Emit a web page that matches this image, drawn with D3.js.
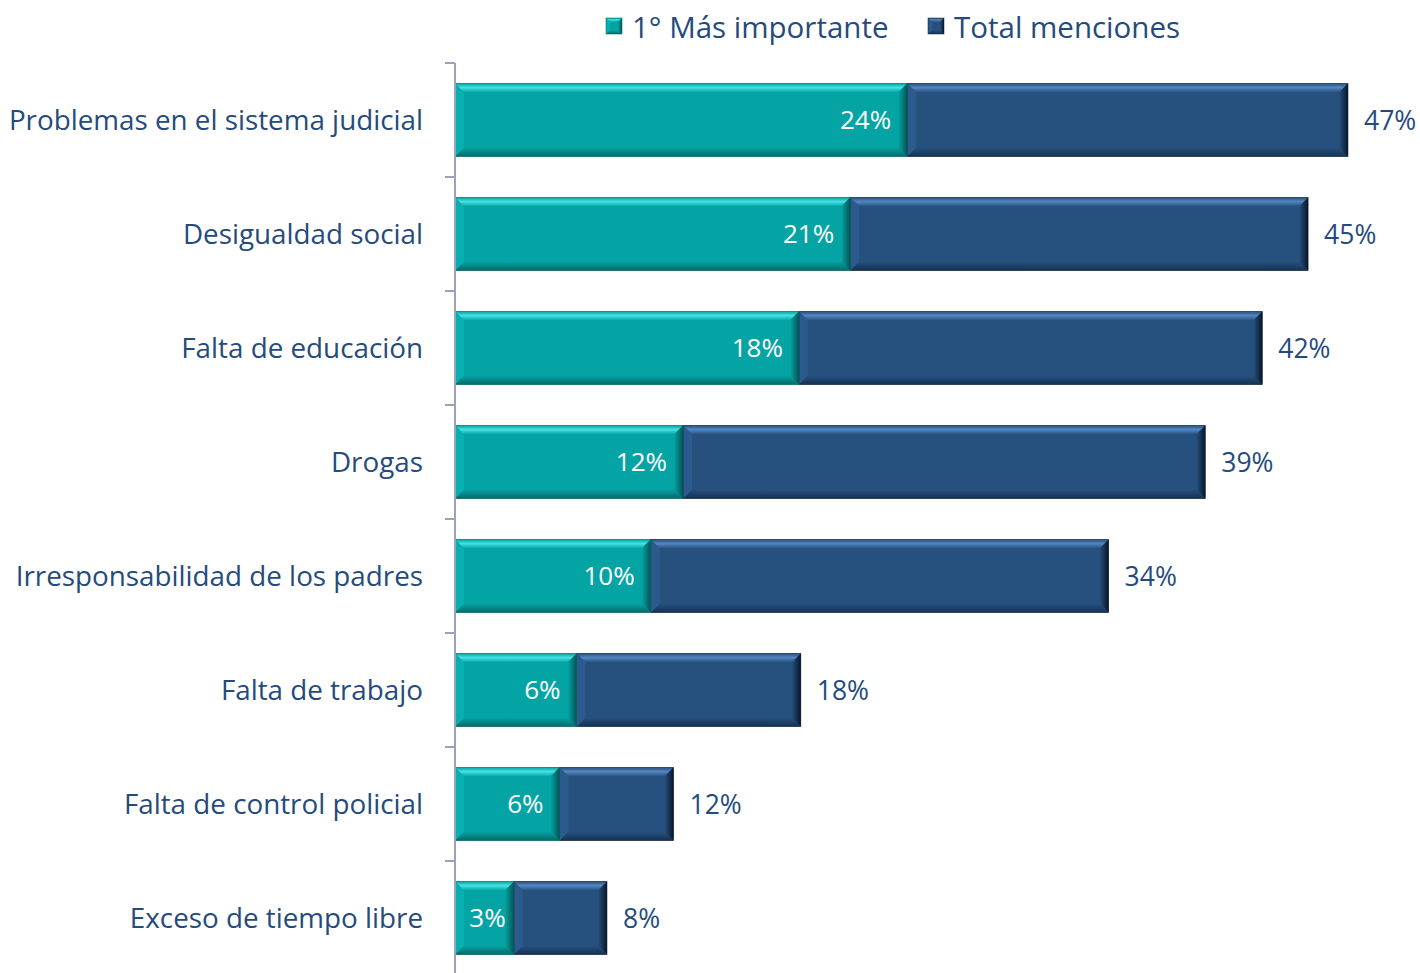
<!DOCTYPE html>
<html>
<head>
<meta charset="utf-8">
<script src="https://cdn.jsdelivr.net/npm/d3@7"></script>
<style>
  body { margin: 0; background: #fff; }
  svg { display: block; font-family: "Open Sans", sans-serif; }
</style>
</head>
<body>
<svg id="chart"></svg>
<script>
const categories = [
  "Problemas en el sistema judicial",
  "Desigualdad social",
  "Falta de educación",
  "Drogas",
  "Irresponsabilidad de los padres",
  "Falta de trabajo",
  "Falta de control policial",
  "Exceso de tiempo libre",
];
const first = [23.8, 20.8, 18.1, 12.0, 10.3, 6.4, 5.5, 3.1];
const total = [47.0, 44.9, 42.49, 39.49, 34.4, 18.2, 11.5, 8.0];
const seriesNames = ["1° Más importante", "Total menciones"];

const width = 1420;
const height = 973;
const textColor = "#254b7d";
const bevel = 9;

const svg = d3.select("#chart").attr("width", width).attr("height", height);

const x = d3.scaleLinear().domain([0, 50]).range([455, 1405]);
const y = d3.scaleBand().domain(categories).range([63, 975]).paddingInner(0.36).paddingOuter(0.18);

const rows = categories.map((c, i) => ({ name: c, first: first[i], total: total[i] }));

const styles = {
  teal: { id: "teal", base: "#05a4a4", light: "#44e2e2", bottom: "#046a69", left: "#07b0b0", right: "#045454" },
  blue: { id: "blue", base: "#26517f", light: "#5386c0", bottom: "#153154", left: "#2c5a8c", right: "#08162a" },
};

// gradients for top/bottom bevels
const defs = svg.append("defs");
Object.values(styles).forEach((s) => {
  const top = defs.append("linearGradient").attr("id", `top-${s.id}`)
    .attr("x1", 0).attr("y1", 0).attr("x2", 0).attr("y2", 1);
  top.append("stop").attr("offset", "0%").attr("stop-color", s.base);
  top.append("stop").attr("offset", "45%").attr("stop-color", s.light);
  top.append("stop").attr("offset", "100%").attr("stop-color", s.base);
  const bot = defs.append("linearGradient").attr("id", `bot-${s.id}`)
    .attr("x1", 0).attr("y1", 0).attr("x2", 0).attr("y2", 1);
  bot.append("stop").attr("offset", "0%").attr("stop-color", s.base);
  bot.append("stop").attr("offset", "100%").attr("stop-color", s.bottom);
  const right = defs.append("linearGradient").attr("id", `right-${s.id}`)
    .attr("x1", 0).attr("y1", 0).attr("x2", 1).attr("y2", 0);
  right.append("stop").attr("offset", "0%").attr("stop-color", s.base);
  right.append("stop").attr("offset", "100%").attr("stop-color", s.right);
});

function drawBar(g, x0, x1, y0, h, s, b0 = bevel) {
  const w = x1 - x0;
  const b = Math.min(b0, w / 2);
  const pts = (arr) => arr.map((p) => p.join(",")).join(" ");
  g.append("rect").attr("x", x0).attr("y", y0).attr("width", w).attr("height", h).attr("fill", s.base);
  g.append("polygon").attr("fill", `url(#top-${s.id})`)
    .attr("points", pts([[x0, y0], [x1, y0], [x1 - b, y0 + b], [x0 + b, y0 + b]]));
  g.append("polygon").attr("fill", `url(#bot-${s.id})`)
    .attr("points", pts([[x0, y0 + h], [x1, y0 + h], [x1 - b, y0 + h - b], [x0 + b, y0 + h - b]]));
  g.append("polygon").attr("fill", s.left)
    .attr("points", pts([[x0, y0], [x0 + b, y0 + b], [x0 + b, y0 + h - b], [x0, y0 + h]]));
  g.append("polygon").attr("fill", `url(#right-${s.id})`)
    .attr("points", pts([[x1, y0], [x1 - b, y0 + b], [x1 - b, y0 + h - b], [x1, y0 + h]]));
  g.append("rect").attr("x", x0).attr("y", y0).attr("width", w).attr("height", h)
    .attr("fill", "none").attr("stroke", s.right).attr("stroke-width", 0.8).attr("stroke-opacity", 0.6);
}

const bars = svg.append("g");
rows.forEach((d) => {
  const g = bars.append("g");
  const y0 = y(d.name);
  const h = y.bandwidth();
  drawBar(g, x(d.first), x(d.total), y0, h, styles.blue);
  drawBar(g, x(0), x(d.first), y0, h, styles.teal);

  const narrow = x(d.first) - x(0) < 75;
  g.append("text")
    .attr("x", narrow ? (x(0) + x(d.first)) / 2 + 3 : x(d.first) - 16)
    .attr("y", y0 + h / 2)
    .attr("dy", "0.36em")
    .attr("text-anchor", narrow ? "middle" : "end")
    .attr("fill", "#fff")
    .attr("font-size", 26)
    .text(d3.format(".0f")(d.first) + "%");

  g.append("text")
    .attr("x", x(d.total) + 16)
    .attr("y", y0 + h / 2)
    .attr("dy", "0.36em")
    .attr("fill", textColor)
    .attr("font-size", 26.5)
    .text(d3.format(".0f")(d.total) + "%");
});

// axis line and ticks on band boundaries
const axisColor = "#9aa3b8";
const step = y.step();
svg.append("line")
  .attr("x1", x(0)).attr("x2", x(0))
  .attr("y1", y.range()[0]).attr("y2", height)
  .attr("stroke", axisColor).attr("stroke-width", 2);
d3.range(categories.length + 1).forEach((i) => {
  const ty = y.range()[0] + i * step;
  svg.append("line")
    .attr("x1", x(0) - 10).attr("x2", x(0))
    .attr("y1", ty).attr("y2", ty)
    .attr("stroke", axisColor).attr("stroke-width", 2);
});

// category labels
svg.append("g")
  .selectAll("text")
  .data(categories)
  .join("text")
  .attr("x", 423)
  .attr("y", (d) => y(d) + y.bandwidth() / 2)
  .attr("dy", "0.36em")
  .attr("text-anchor", "end")
  .attr("fill", textColor)
  .attr("font-size", 27.8)
  .text((d) => d);

// legend
const legend = svg.append("g");
const legendItems = [
  { name: seriesNames[0], x: 606, s: styles.teal },
  { name: seriesNames[1], x: 928, s: styles.blue },
];
legendItems.forEach((it) => {
  const g = legend.append("g");
  drawBar(g, it.x, it.x + 16, 18, 16, it.s, 4);
  g.append("text")
    .attr("x", it.x + 26)
    .attr("y", 27)
    .attr("dy", "0.36em")
    .attr("fill", textColor)
    .attr("font-size", 29.5)
    .text(it.name);
});
</script>
</body>
</html>
